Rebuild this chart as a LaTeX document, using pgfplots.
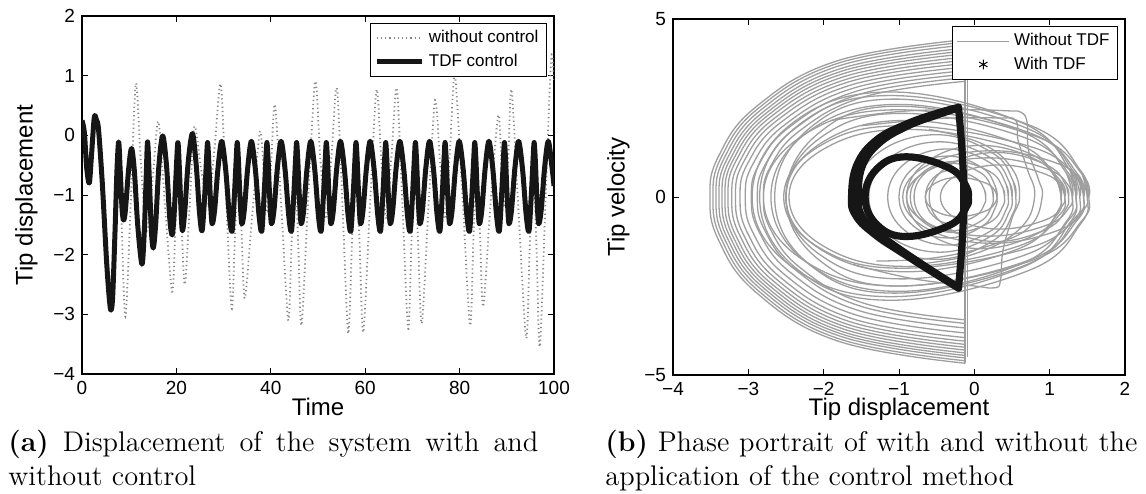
\documentclass[border=0pt]{standalone}
\usepackage{fontspec}
\usepackage{pgfplots}
\pgfplotsset{compat=1.18}
\newfontfamily\hv{Liberation Sans}
\definecolor{lg}{RGB}{158,158,158}
\definecolor{lgd}{RGB}{135,135,135}
\definecolor{bk}{RGB}{22,22,22}
\pgfplotsset{
  gl/.style={color=lg, line width=0.65pt, smooth, tension=0.7, forget plot, line join=round},
  bkl/.style={color=bk, line width=3.6pt, smooth, tension=0.7, forget plot, line cap=round, line join=round},
  mystyle/.style={
    scale only axis, clip=true,
    tick align=inside, major tick length=3pt,
    axis line style={line width=0.6pt},
    every tick/.style={line width=0.5pt, black},
    ticklabel style={font=\hv\fontsize{9.5}{11}\selectfont},
    label style={font=\hv\fontsize{12}{14}\selectfont, inner sep=0pt},
    legend style={font=\hv\fontsize{8.5}{10}\selectfont, draw=black, line width=0.5pt,
      fill=white, inner xsep=2pt, inner ysep=1.5pt, row sep=0pt,
      at={(axis description cs:1,1)}, anchor=north east, xshift=-3.5pt, yshift=-3.5pt},
    legend cell align=left,
  },
  asterleg/.style={legend image code/.code={\draw[black] plot[mark=asterisk, mark size=2.4pt] coordinates {(0.46cm,0cm)};}},
}
\begin{document}
\begin{tikzpicture}
\path[use as bounding box] (0,0) rectangle (573pt,246.5pt);
% ---------------- left panel ----------------
\begin{axis}[mystyle,
  at={(41pt,59.5pt)}, anchor=south west, width=236pt, height=179pt,
  xmin=0, xmax=100, ymin=-4, ymax=2,
  xtick={0,20,40,60,80,100}, xticklabels={0,20,40,60,80,100},
  ytick={-4,-3,-2,-1,0,1,2}, yticklabels={−4,−3,−2,−1,0,1,2},
  xlabel={Time}, ylabel={Tip displacement},
  xlabel style={at={(axis description cs:0.5,-0.067)}, anchor=north},
  ylabel style={at={(axis description cs:-0.093,0.5)}, anchor=south},
  legend image code/.code={\draw[#1] (0cm,0cm) -- (0.8cm,0cm);},
]
\addplot[color=lgd, line width=0.9pt, dash pattern=on 0.6pt off 1.5pt, smooth] coordinates {
(0,0.25) (0.5,0.05) (1.0,-0.55) (1.55,-0.8) (2.0,-0.35) (2.6,0.3) (3.05,0.26) (3.5,0.1)
(4.3,-0.8) (5.2,-2.1) (5.8,-2.75) (6.14,-2.93) (6.5,-2.7) (7.0,-1.6) (7.5,-0.6) (7.9,-0.3)
(8.4,-1.5) (9.2,-3.04) (10.3,-1.2) (11.4,0.87) (12.5,-0.5) (13.7,-1.6) (15.0,-0.7) (16.2,0.23)
(17.6,-1.2) (19.1,-2.62) (19.8,-1.5) (20.45,-0.4) (21.1,-1.5) (21.8,-2.5) (22.8,-1.2) (23.8,0.15)
(25.3,-0.6) (26.8,-1.2) (28.1,-0.2) (29.4,0.86) (30.5,-1.0) (31.7,-2.9) (32.4,-1.7) (33.1,-0.6)
(33.8,-1.6) (34.5,-2.73) (36.1,-1.3) (37.7,0.06) (38.5,-0.6) (39.3,-1.3) (40.1,-0.4) (40.9,0.51)
(42.3,-1.3) (43.7,-3.1) (44.4,-1.8) (45.1,-0.5) (45.8,-1.8) (46.5,-3.18) (47.9,-1.1) (49.4,0.9)
(50.5,-0.4) (51.7,-1.4) (52.9,-0.3) (54.0,0.79) (55.2,-1.2) (56.4,-3.32) (57.2,-1.8) (58.0,-0.5)
(58.8,-1.8) (59.6,-3.3) (61.0,-1.2) (62.4,0.76) (63.4,-0.4) (64.5,-1.4) (65.6,-0.3) (66.7,0.79)
(67.9,-1.2) (69.1,-3.24) (69.8,-1.8) (70.5,-0.5) (71.2,-1.8) (72.0,-3.15) (73.4,-1.2) (74.8,0.59)
(75.9,-0.5) (77.0,-1.4) (78.0,-0.2) (79.0,1.0) (80.6,-1.0) (82.2,-3.18) (82.9,-1.8) (83.6,-0.5)
(84.3,-1.6) (85.0,-2.87) (86.6,-1.1) (88.2,0.34) (88.9,-0.5) (89.6,-1.2) (90.3,-0.4) (91.0,0.76)
(92.5,-1.3) (94.1,-3.4) (94.85,-1.9) (95.6,-0.5) (96.3,-1.9) (97.0,-3.54) (98.2,-1.1) (99.4,1.29) (100,0.9)
};
\addlegendentry{without control}
\addplot[color=bk, line width=2.5pt, smooth, line join=round] coordinates {
(0,0.25) (0.5,0.05) (1.0,-0.55) (1.55,-0.8) (2.0,-0.35) (2.6,0.3) (3.05,0.26) (3.5,0.1)
(4.3,-0.8) (5.2,-2.1) (5.8,-2.75) (6.14,-2.93) (6.5,-2.7) (7.0,-1.6) (7.4,-0.6) (7.77,-0.11)
(8.1,-0.6) (8.5,-1.25) (8.83,-1.42) (9.2,-1.25) (9.9,-0.55) (10.5,-0.22) (11.1,-0.6) (11.8,-1.5)
(12.7,-2.16) (13.2,-1.6) (13.6,-0.7) (13.9,-0.11) (14.3,-0.8) (14.7,-1.6) (15.1,-1.89) (15.6,-1.5)
(16.3,-0.5) (17.1,-0.01) (17.9,-0.5) (18.6,-1.4) (19.1,-1.67) (19.5,-1.35) (19.9,-0.7) (20.3,-0.12)
(20.6,-0.5) (21.0,-1.3) (21.3,-1.6) (21.8,-1.25) (22.5,-0.45) (23.4,0.03) (24.2,-0.5) (24.9,-1.3) (25.45,-1.6)
(26.00,-1.0) (26.38,-0.4) (26.60,-0.12) (26.84,-0.4) (27.15,-0.98) (27.55,-1.48) (28.10,-1.25) (28.80,-0.56) (29.60,-0.1) (30.45,-0.58) (31.20,-1.33)
(31.79,-1.61) (32.29,-1.0) (32.67,-0.4) (32.89,-0.12) (33.13,-0.4) (33.44,-0.98) (33.84,-1.48) (34.39,-1.25) (35.09,-0.56) (35.89,-0.1) (36.74,-0.58) (37.49,-1.33)
(38.08,-1.61) (38.58,-1.0) (38.96,-0.4) (39.18,-0.12) (39.42,-0.4) (39.73,-0.98) (40.13,-1.48) (40.68,-1.25) (41.38,-0.56) (42.18,-0.1) (43.03,-0.58) (43.78,-1.33)
(44.37,-1.61) (44.87,-1.0) (45.25,-0.4) (45.47,-0.12) (45.71,-0.4) (46.02,-0.98) (46.42,-1.48) (46.97,-1.25) (47.67,-0.56) (48.47,-0.1) (49.32,-0.58) (50.07,-1.33)
(50.66,-1.61) (51.16,-1.0) (51.54,-0.4) (51.76,-0.12) (52.00,-0.4) (52.31,-0.98) (52.71,-1.48) (53.26,-1.25) (53.96,-0.56) (54.76,-0.1) (55.61,-0.58) (56.36,-1.33)
(56.95,-1.61) (57.45,-1.0) (57.83,-0.4) (58.05,-0.12) (58.29,-0.4) (58.60,-0.98) (59.00,-1.48) (59.55,-1.25) (60.25,-0.56) (61.05,-0.1) (61.90,-0.58) (62.65,-1.33)
(63.24,-1.61) (63.74,-1.0) (64.12,-0.4) (64.34,-0.12) (64.58,-0.4) (64.89,-0.98) (65.29,-1.48) (65.84,-1.25) (66.54,-0.56) (67.34,-0.1) (68.19,-0.58) (68.94,-1.33)
(69.53,-1.61) (70.03,-1.0) (70.41,-0.4) (70.63,-0.12) (70.87,-0.4) (71.18,-0.98) (71.58,-1.48) (72.13,-1.25) (72.83,-0.56) (73.63,-0.1) (74.48,-0.58) (75.23,-1.33)
(75.82,-1.61) (76.32,-1.0) (76.70,-0.4) (76.92,-0.12) (77.16,-0.4) (77.47,-0.98) (77.87,-1.48) (78.42,-1.25) (79.12,-0.56) (79.92,-0.1) (80.77,-0.58) (81.52,-1.33)
(82.11,-1.61) (82.61,-1.0) (82.99,-0.4) (83.21,-0.12) (83.45,-0.4) (83.76,-0.98) (84.16,-1.48) (84.71,-1.25) (85.41,-0.56) (86.21,-0.1) (87.06,-0.58) (87.81,-1.33)
(88.40,-1.61) (88.90,-1.0) (89.28,-0.4) (89.50,-0.12) (89.74,-0.4) (90.05,-0.98) (90.45,-1.48) (91.00,-1.25) (91.70,-0.56) (92.50,-0.1) (93.35,-0.58) (94.10,-1.33)
(94.69,-1.61) (95.19,-1.0) (95.57,-0.4) (95.79,-0.12) (96.03,-0.4) (96.34,-0.98) (96.74,-1.48) (97.29,-1.25) (97.99,-0.56) (98.79,-0.1) (99.64,-0.58) (100,-0.85)
};
\addlegendentry{TDF control}
\end{axis}
% ---------------- right panel ----------------
\begin{axis}[mystyle,
  at={(336.5pt,59pt)}, anchor=south west, width=226pt, height=178pt,
  xmin=-4, xmax=2, ymin=-5, ymax=5,
  xtick={-4,-3,-2,-1,0,1,2}, xticklabels={−4,−3,−2,−1,0,1,2},
  ytick={-5,0,5}, yticklabels={−5,0,5},
  xlabel={Tip displacement}, ylabel={Tip velocity},
  xlabel style={at={(axis description cs:0.5,-0.065)}, anchor=north},
  ylabel style={at={(axis description cs:-0.095,0.5)}, anchor=south},
  legend image code/.code={\draw[#1] (0cm,0cm) -- (0.92cm,0cm);},
]
\addlegendimage{color=lg, line width=0.65pt}
\addlegendentry{Without TDF}
\addlegendimage{asterleg}
\addlegendentry{With TDF}
% D-shaped arcs ending at the stop
\addplot[gl] coordinates {(-0.12,4.42) (-1.815,3.828) (-2.896,2.537) (-3.395,1.145) (-3.51,0) (-3.395,-1.210) (-2.896,-2.681) (-1.815,-4.044) (-0.12,-4.67)};
\addplot[gl] coordinates {(-0.12,4.35) (-1.795,3.767) (-2.864,2.497) (-3.356,1.127) (-3.47,0) (-3.356,-1.191) (-2.864,-2.640) (-1.795,-3.984) (-0.12,-4.60)};
\addplot[gl] coordinates {(-0.12,4.27) (-1.775,3.698) (-2.831,2.451) (-3.317,1.106) (-3.43,0) (-3.317,-1.171) (-2.831,-2.594) (-1.775,-3.914) (-0.12,-4.52)};
\addplot[gl] coordinates {(-0.12,4.18) (-1.755,3.620) (-2.798,2.399) (-3.279,1.083) (-3.39,0) (-3.279,-1.153) (-2.798,-2.554) (-1.755,-3.854) (-0.12,-4.45)};
\addplot[gl] coordinates {(-0.12,4.10) (-1.735,3.551) (-2.765,2.353) (-3.240,1.062) (-3.35,0) (-3.240,-1.134) (-2.765,-2.514) (-1.735,-3.793) (-0.12,-4.38)};
\addplot[gl] coordinates {(-0.12,4.02) (-1.715,3.481) (-2.733,2.307) (-3.202,1.041) (-3.31,0) (-3.202,-1.114) (-2.733,-2.468) (-1.715,-3.724) (-0.12,-4.30)};
\addplot[gl] coordinates {(-0.12,3.93) (-1.695,3.403) (-2.700,2.256) (-3.163,1.018) (-3.27,0) (-3.163,-1.093) (-2.700,-2.422) (-1.695,-3.655) (-0.12,-4.22)};
\addplot[gl] coordinates {(-0.12,3.84) (-1.670,3.325) (-2.659,2.204) (-3.115,0.995) (-3.22,0) (-3.115,-1.072) (-2.659,-2.376) (-1.670,-3.585) (-0.12,-4.14)};
\addplot[gl] coordinates {(-0.12,3.75) (-1.645,3.248) (-2.618,2.153) (-3.066,0.971) (-3.17,0) (-3.066,-1.049) (-2.618,-2.325) (-1.645,-3.507) (-0.12,-4.05)};
\addplot[gl] coordinates {(-0.12,3.65) (-1.615,3.161) (-2.569,2.095) (-3.008,0.945) (-3.11,0) (-3.008,-1.023) (-2.569,-2.267) (-1.615,-3.421) (-0.12,-3.95)};
\addplot[gl] coordinates {(-0.12,3.55) (-1.580,3.074) (-2.511,2.038) (-2.941,0.919) (-3.04,0) (-2.941,-0.989) (-2.511,-2.193) (-1.580,-3.308) (-0.12,-3.82)};
\addplot[gl] coordinates {(-0.12,3.45) (-1.540,2.988) (-2.446,1.980) (-2.863,0.894) (-2.96,0) (-2.863,-0.953) (-2.446,-2.112) (-1.540,-3.187) (-0.12,-3.68)};
\addplot[gl] coordinates {(-0.12,3.35) (-1.500,2.901) (-2.380,1.923) (-2.786,0.868) (-2.88,0) (-2.786,-0.919) (-2.380,-2.038) (-1.500,-3.074) (-0.12,-3.55)};
\addplot[gl] coordinates {(-0.12,3.25) (-1.460,2.815) (-2.315,1.866) (-2.709,0.842) (-2.80,0) (-2.709,-0.894) (-2.315,-1.980) (-1.460,-2.988) (-0.12,-3.45)};
% the stop
\addplot[gl, line width=1.1pt] coordinates {(-0.12,-4.67) (-0.12,4.42)};
\addplot[gl] coordinates {(-0.09,-4.5) (-0.09,4.3)};
% large loops
\addplot[gl] coordinates {(1.45,0) (1.367,0.660) (0.732,1.803) (-1.0,2.55) (-2.061,1.803) (-2.5,0) (-2.061,-1.768) (-1.0,-2.5) (0.732,-1.768) (1.367,-0.648) (1.45,0) (1.367,0.660)};
\addplot[gl] coordinates {(1.40,0) (1.317,0.712) (0.682,1.944) (-1.05,2.75) (-2.181,1.944) (-2.65,0) (-2.181,-1.909) (-1.05,-2.7) (0.682,-1.909) (1.317,-0.699) (1.40,0) (1.317,0.712)};
\addplot[gl] coordinates {(1.35,0) (1.272,0.609) (0.676,1.661) (-0.95,2.35) (-2.046,1.661) (-2.5,0) (-2.046,-1.626) (-0.95,-2.3) (0.676,-1.626) (1.272,-0.596) (1.35,0) (1.272,0.609)};
\addplot[gl] coordinates {(1.5,0) (1.412,0.738) (0.738,2.015) (-1.1,2.85) (-2.337,2.015) (-2.85,0) (-2.337,-2.05) (-1.1,-2.9) (0.738,-2.05) (1.412,-0.751) (1.5,0) (1.412,0.738)};
\addplot[gl] coordinates {(1.3,0) (1.222,0.673) (0.626,1.838) (-1.0,2.6) (-2.202,1.838) (-2.7,0) (-2.202,-1.874) (-1.0,-2.65) (0.626,-1.874) (1.222,-0.686) (1.3,0) (1.222,0.673)};
\addplot[gl] coordinates {(1.15,0) (1.080,0.557) (0.549,1.52) (-0.9,2.15) (-2.031,1.52) (-2.5,0) (-2.031,-1.485) (-0.9,-2.1) (0.549,-1.485) (1.080,-0.544) (1.15,0) (1.080,0.557)};
\addplot[gl] coordinates {(1.35,0) (1.267,0.764) (0.632,2.086) (-1.1,2.95) (-2.408,2.086) (-2.95,0) (-2.408,-1.98) (-1.1,-2.8) (0.632,-1.98) (1.267,-0.725) (1.35,0) (1.267,0.764)};
\addplot[gl] coordinates {(1.45,0) (1.368,0.518) (0.747,1.414) (-0.95,2.0) (-2.067,1.414) (-2.53,0) (-2.067,-1.414) (-0.95,-2.0) (0.747,-1.414) (1.368,-0.518) (1.45,0) (1.368,0.518)};
\addplot[gl] coordinates {(1.2,0) (1.129,0.492) (0.585,1.343) (-0.9,1.9) (-2.003,1.343) (-2.46,0) (-2.003,-1.379) (-0.9,-1.95) (0.585,-1.379) (1.129,-0.505) (1.2,0) (1.129,0.492)};
\addplot[gl] coordinates {(1.52,0) (1.434,0.635) (0.782,1.732) (-1.0,2.45) (-2.273,1.732) (-2.8,0) (-2.273,-1.768) (-1.0,-2.5) (0.782,-1.768) (1.434,-0.648) (1.52,0) (1.434,0.635)};
% small loops near the stop
\addplot[gl] coordinates {(0.15,0) (0.135,0.194) (0.018,0.53) (-0.3,0.75) (-0.547,0.53) (-0.65,0) (-0.547,-0.53) (-0.3,-0.75) (0.018,-0.53) (0.135,-0.194) (0.15,0) (0.135,0.194)};
\addplot[gl] coordinates {(0.25,0) (0.231,0.246) (0.089,0.672) (-0.3,0.95) (-0.654,0.672) (-0.8,0) (-0.654,-0.672) (-0.3,-0.95) (0.089,-0.672) (0.231,-0.246) (0.25,0) (0.231,0.246)};
\addplot[gl] coordinates {(0.3,0) (0.278,0.298) (0.11,0.813) (-0.35,1.15) (-0.81,0.813) (-1.0,0) (-0.81,-0.813) (-0.35,-1.15) (0.11,-0.813) (0.278,-0.298) (0.3,0) (0.278,0.298)};
\addplot[gl] coordinates {(0.45,0) (0.423,0.350) (0.216,0.954) (-0.35,1.35) (-0.916,0.954) (-1.15,0) (-0.916,-0.954) (-0.35,-1.35) (0.216,-0.954) (0.423,-0.350) (0.45,0) (0.423,0.350)};
\addplot[gl] coordinates {(0.5,0) (0.468,0.401) (0.222,1.096) (-0.45,1.55) (-1.122,1.096) (-1.4,0) (-1.122,-1.096) (-0.45,-1.55) (0.222,-1.096) (0.468,-0.401) (0.5,0) (0.468,0.401)};
\addplot[gl] coordinates {(0.55,0) (0.514,0.453) (0.242,1.237) (-0.5,1.75) (-1.278,1.237) (-1.6,0) (-1.278,-1.237) (-0.5,-1.75) (0.242,-1.237) (0.514,-0.453) (0.55,0) (0.514,0.453)};
\addplot[gl] coordinates {(0.3,0) (0.283,0.142) (0.154,0.389) (-0.2,0.55) (-0.518,0.389) (-0.65,0) (-0.518,-0.389) (-0.2,-0.55) (0.154,-0.389) (0.283,-0.142) (0.3,0) (0.283,0.142)};
\addplot[gl] coordinates {(0.4,0) (0.378,0.259) (0.21,0.707) (-0.25,1.0) (-0.674,0.707) (-0.85,0) (-0.674,-0.707) (-0.25,-1.0) (0.21,-0.707) (0.378,-0.259) (0.4,0) (0.378,0.259)};
% right lobes
\addplot[gl] coordinates {(1.5,0) (1.458,0.337) (1.134,0.919) (0.25,1.3) (-0.598,0.919) (-0.95,0) (-0.598,-0.919) (0.25,-1.3) (1.134,-0.919) (1.458,-0.337) (1.5,0) (1.458,0.337)};
\addplot[gl] coordinates {(1.3,0) (1.263,0.285) (0.978,0.778) (0.2,1.1) (-0.578,0.778) (-0.9,0) (-0.578,-0.778) (0.2,-1.1) (0.978,-0.778) (1.263,-0.285) (1.3,0) (1.263,0.285)};
\addplot[gl] coordinates {(1.25,0) (1.218,0.324) (0.972,0.884) (0.3,1.25) (-0.336,0.884) (-0.6,0) (-0.336,-0.884) (0.3,-1.25) (0.972,-0.884) (1.218,-0.324) (1.25,0) (1.218,0.324)};
\addplot[gl] coordinates {(1.15,0) (1.114,0.376) (0.842,1.025) (0.1,1.45) (-0.607,1.025) (-0.9,0) (-0.607,-1.025) (0.1,-1.45) (0.842,-1.025) (1.114,-0.376) (1.15,0) (1.114,0.376)};
\addplot[gl] coordinates {(1.2,0) (1.171,0.233) (0.951,0.636) (0.35,0.9) (-0.216,0.636) (-0.45,0) (-0.216,-0.636) (0.35,-0.9) (0.951,-0.636) (1.171,-0.233) (1.2,0) (1.171,0.233)};
% irregular orbits
\addplot[gl] coordinates {(-1.9,2.15) (-1.0,2.4) (-0.12,2.45) (0.45,2.42) (0.62,2.38) (0.7,2.1) (0.72,1.3) (0.85,0.5) (0.9,0) (0.75,-0.8) (0.3,-1.3) (-0.5,-1.7) (-1.3,-1.8)};
\addplot[gl] coordinates {(-1.6,-1.9) (-0.8,-2.3) (0.0,-2.5) (0.28,-2.55) (0.35,-2.3) (0.38,-1.5) (0.5,-0.6) (0.6,0) (0.5,0.8) (0.1,1.5) (-0.6,1.9)};
\addplot[gl] coordinates {(-1.5,2.0) (-0.5,2.2) (0.3,2.22) (0.55,2.15) (0.58,1.6) (0.7,0.8) (0.8,0) (0.6,-0.9) (0,-1.6) (-0.8,-1.9)};
% controlled orbit (TDF)
\addplot[bkl] coordinates {(-0.21,2.52) (-0.5,2.35) (-0.9,2.05) (-1.3,1.6) (-1.56,0.9) (-1.63,0) (-1.58,-0.5) (-1.34,-1.02) (-0.81,-1.77) (-0.21,-2.56)};
\addplot[bkl] coordinates {(-0.21,2.5) (-0.5,2.3) (-0.9,1.98) (-1.27,1.5) (-1.49,0.85) (-1.54,0) (-1.5,-0.5) (-1.3,-0.98) (-0.8,-1.74) (-0.21,-2.54)};
\addplot[bkl] coordinates {(-0.21,2.52) (-0.16,1.2) (-0.14,0) (-0.16,-1.2) (-0.21,-2.56)};
\addplot[bkl] coordinates {(-0.08,0) (-0.108,0.293) (-0.32,0.8) (-0.9,1.13) (-1.289,0.8) (-1.45,0) (-1.289,-0.785) (-0.9,-1.11) (-0.32,-0.785) (-0.108,-0.287) (-0.08,0) (-0.108,0.293)};
\end{axis}
% ---------------- captions ----------------
\begin{scope}[every node/.style={anchor=base west, inner sep=0pt, font=\fontsize{14.2}{17}\selectfont}]
\node at (4pt,21pt) {\makebox[265pt][s]{\textbf{(a)} Displacement of the system with and}};
\node at (4pt,4pt) {without control};
\node at (302.5pt,21pt) {\makebox[266pt][s]{\textbf{(b)} Phase portrait of with and without the}};
\node at (302.5pt,4pt) {application of the control method};
\end{scope}
\end{tikzpicture}
\end{document}
